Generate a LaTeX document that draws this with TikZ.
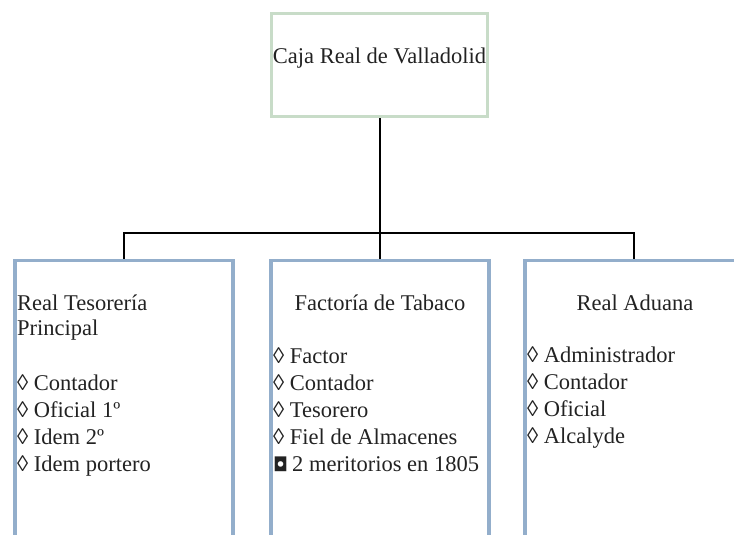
\documentclass[tikz,border=0pt]{standalone}
\usepackage{fontspec}
\setmainfont{Liberation Serif}
\newfontfamily\symfont{DejaVu Sans}
\definecolor{topgreen}{HTML}{C8DCC8}
\definecolor{unitblue}{HTML}{93AECB}
\definecolor{inkgray}{HTML}{222222}
\begin{document}
\begin{tikzpicture}[x=1pt,y=-1pt,
  topbox/.style={draw=topgreen, line width=3pt, minimum width=216pt, minimum height=103pt, inner sep=0pt},
  unitbox/.style={draw=unitblue, line width=3.5pt, minimum width=218pt, minimum height=330pt, anchor=north, inner sep=0pt},
  txt/.style={font=\fontsize{22.5}{26}\selectfont, inner sep=0pt, text=inkgray},
  item/.style={txt, anchor=base west},
  head/.style={txt, anchor=base},
  link/.style={line width=2pt, black}]
\useasboundingbox (0,0) rectangle (734,535);
\clip (0,0) rectangle (734,535);
% boxes
\node[topbox] (caja) at (379.5,65) {};
\node[head] (cajat) at (379.5,63.5) {Caja Real de Valladolid};
\node[unitbox] (tes) at (124,258.5) {};
\node[unitbox] (fac) at (380,258.5) {};
\node[unitbox] (adu) at (634,258.5) {};
% connectors
\coordinate (bar) at (379.5,233);
\draw[link] (caja.south) -- (caja.south |- fac.north);
\draw[link] (tes.north) -- (tes.north |- bar) -- (adu.north |- bar) -- (adu.north);
% Real Tesoreria
\node[item] (t0) at (17,310) {Real Tesorería};
\node[item] (t1) at (17,335) {Principal};
\node[item] (t2) at (17,390) {◊ Contador};
\node[item] (t3) at (17,417) {◊ Oficial 1º};
\node[item] (t4) at (17,444) {◊ Idem 2º};
\node[item] (t5) at (17,471) {◊ Idem portero};
% Factoria
\node[head] (f0) at (380,310) {Factoría de Tabaco};
\node[item] (f1) at (273,363) {◊ Factor};
\node[item] (f2) at (273,390) {◊ Contador};
\node[item] (f3) at (273,417) {◊ Tesorero};
\node[item] (f4) at (273,444) {◊ Fiel de Almacenes};
\node[item] (f5) at (273,471) {{\symfont\fontsize{19}{26}\selectfont ◘}\hspace{4pt}2 meritorios en 1805};
% Aduana
\node[head] (a0) at (635,310) {Real Aduana};
\node[item] (a1) at (527,362) {◊ Administrador};
\node[item] (a2) at (527,389) {◊ Contador};
\node[item] (a3) at (527,416) {◊ Oficial};
\node[item] (a4) at (527,443) {◊ Alcalyde};
\end{tikzpicture}
\end{document}
